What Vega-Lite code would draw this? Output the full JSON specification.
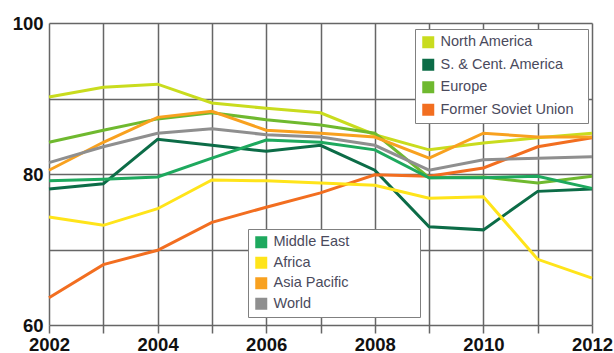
{
  "$schema": "https://vega.github.io/schema/vega-lite/v6.json",
  "width": 543,
  "height": 302,
  "autosize": {"type": "none"},
  "padding": {"left": 49, "top": 23, "right": 22, "bottom": 28},
  "background": "white",
  "data": {"values": [
    {"region": "North America", "year": 2002, "value": 90.2},
    {"region": "North America", "year": 2003, "value": 91.5},
    {"region": "North America", "year": 2004, "value": 91.9},
    {"region": "North America", "year": 2005, "value": 89.4},
    {"region": "North America", "year": 2006, "value": 88.7},
    {"region": "North America", "year": 2007, "value": 88.1},
    {"region": "North America", "year": 2008, "value": 85.2},
    {"region": "North America", "year": 2009, "value": 83.2},
    {"region": "North America", "year": 2010, "value": 84.1},
    {"region": "North America", "year": 2011, "value": 84.8},
    {"region": "North America", "year": 2012, "value": 85.4},
    {"region": "S. & Cent. America", "year": 2002, "value": 78.0},
    {"region": "S. & Cent. America", "year": 2003, "value": 78.7},
    {"region": "S. & Cent. America", "year": 2004, "value": 84.6},
    {"region": "S. & Cent. America", "year": 2005, "value": 83.8},
    {"region": "S. & Cent. America", "year": 2006, "value": 83.0},
    {"region": "S. & Cent. America", "year": 2007, "value": 83.8},
    {"region": "S. & Cent. America", "year": 2008, "value": 80.5},
    {"region": "S. & Cent. America", "year": 2009, "value": 73.0},
    {"region": "S. & Cent. America", "year": 2010, "value": 72.6},
    {"region": "S. & Cent. America", "year": 2011, "value": 77.7},
    {"region": "S. & Cent. America", "year": 2012, "value": 78.0},
    {"region": "Europe", "year": 2002, "value": 84.2},
    {"region": "Europe", "year": 2003, "value": 85.8},
    {"region": "Europe", "year": 2004, "value": 87.3},
    {"region": "Europe", "year": 2005, "value": 88.1},
    {"region": "Europe", "year": 2006, "value": 87.2},
    {"region": "Europe", "year": 2007, "value": 86.5},
    {"region": "Europe", "year": 2008, "value": 85.4},
    {"region": "Europe", "year": 2009, "value": 79.5},
    {"region": "Europe", "year": 2010, "value": 79.6},
    {"region": "Europe", "year": 2011, "value": 78.8},
    {"region": "Europe", "year": 2012, "value": 79.7},
    {"region": "Former Soviet Union", "year": 2002, "value": 63.6},
    {"region": "Former Soviet Union", "year": 2003, "value": 68.0},
    {"region": "Former Soviet Union", "year": 2004, "value": 69.9},
    {"region": "Former Soviet Union", "year": 2005, "value": 73.6},
    {"region": "Former Soviet Union", "year": 2006, "value": 75.6},
    {"region": "Former Soviet Union", "year": 2007, "value": 77.5},
    {"region": "Former Soviet Union", "year": 2008, "value": 79.9},
    {"region": "Former Soviet Union", "year": 2009, "value": 79.7},
    {"region": "Former Soviet Union", "year": 2010, "value": 80.8},
    {"region": "Former Soviet Union", "year": 2011, "value": 83.6},
    {"region": "Former Soviet Union", "year": 2012, "value": 84.8},
    {"region": "Middle East", "year": 2002, "value": 79.1},
    {"region": "Middle East", "year": 2003, "value": 79.3},
    {"region": "Middle East", "year": 2004, "value": 79.6},
    {"region": "Middle East", "year": 2005, "value": 82.1},
    {"region": "Middle East", "year": 2006, "value": 84.5},
    {"region": "Middle East", "year": 2007, "value": 84.2},
    {"region": "Middle East", "year": 2008, "value": 83.2},
    {"region": "Middle East", "year": 2009, "value": 79.5},
    {"region": "Middle East", "year": 2010, "value": 79.5},
    {"region": "Middle East", "year": 2011, "value": 79.7},
    {"region": "Middle East", "year": 2012, "value": 78.1},
    {"region": "Africa", "year": 2002, "value": 74.3},
    {"region": "Africa", "year": 2003, "value": 73.2},
    {"region": "Africa", "year": 2004, "value": 75.4},
    {"region": "Africa", "year": 2005, "value": 79.2},
    {"region": "Africa", "year": 2006, "value": 79.1},
    {"region": "Africa", "year": 2007, "value": 78.8},
    {"region": "Africa", "year": 2008, "value": 78.5},
    {"region": "Africa", "year": 2009, "value": 76.8},
    {"region": "Africa", "year": 2010, "value": 77.0},
    {"region": "Africa", "year": 2011, "value": 68.7},
    {"region": "Africa", "year": 2012, "value": 66.2},
    {"region": "Asia Pacific", "year": 2002, "value": 80.5},
    {"region": "Asia Pacific", "year": 2003, "value": 84.2},
    {"region": "Asia Pacific", "year": 2004, "value": 87.5},
    {"region": "Asia Pacific", "year": 2005, "value": 88.3},
    {"region": "Asia Pacific", "year": 2006, "value": 85.8},
    {"region": "Asia Pacific", "year": 2007, "value": 85.4},
    {"region": "Asia Pacific", "year": 2008, "value": 84.9},
    {"region": "Asia Pacific", "year": 2009, "value": 82.1},
    {"region": "Asia Pacific", "year": 2010, "value": 85.4},
    {"region": "Asia Pacific", "year": 2011, "value": 84.9},
    {"region": "Asia Pacific", "year": 2012, "value": 84.9},
    {"region": "World", "year": 2002, "value": 81.5},
    {"region": "World", "year": 2003, "value": 83.6},
    {"region": "World", "year": 2004, "value": 85.4},
    {"region": "World", "year": 2005, "value": 86.0},
    {"region": "World", "year": 2006, "value": 85.2},
    {"region": "World", "year": 2007, "value": 84.9},
    {"region": "World", "year": 2008, "value": 83.8},
    {"region": "World", "year": 2009, "value": 80.5},
    {"region": "World", "year": 2010, "value": 81.9},
    {"region": "World", "year": 2011, "value": 82.1},
    {"region": "World", "year": 2012, "value": 82.3}
  ]},
  "encoding": {
    "x": {
      "field": "year", "type": "quantitative",
      "scale": {"domain": [2002, 2012], "nice": false, "zero": false},
      "axis": {
        "values": [2002, 2003, 2004, 2005, 2006, 2007, 2008, 2009, 2010, 2011, 2012],
        "format": "d",
        "labelExpr": "datum.value % 2 == 0 ? datum.label : ''",
        "title": null, "grid": true, "gridColor": "#666666", "gridWidth": 1.5,
        "domain": false, "ticks": true, "tickColor": "#666666", "tickWidth": 1.5, "tickSize": 8,
        "labelFont": "Liberation Sans", "labelFontSize": 18.5, "labelFontWeight": "bold",
        "labelColor": "#111111", "labelPadding": 2, "labelFlush": false, "labelOverlap": false
      }
    },
    "y": {
      "field": "value", "type": "quantitative",
      "scale": {"domain": [60, 100], "nice": false, "zero": false},
      "axis": {
        "values": [60, 70, 80, 90, 100],
        "labelExpr": "datum.value % 20 == 0 ? datum.label : ''",
        "title": null, "grid": true, "gridColor": "#666666", "gridWidth": 1.5,
        "domain": false, "ticks": false, "tickSize": 0,
        "labelFont": "Liberation Sans", "labelFontSize": 18.5, "labelFontWeight": "bold",
        "labelColor": "#111111", "labelPadding": 6, "labelOverlap": false
      }
    }
  },
  "layer": [
    {
      "transform": [{"filter": {"field": "region", "oneOf": ["North America", "S. & Cent. America", "Europe", "Former Soviet Union"]}}],
      "mark": {"type": "line", "strokeWidth": 3},
      "encoding": {
        "color": {
          "field": "region", "type": "nominal",
          "scale": {"domain": ["North America", "S. & Cent. America", "Europe", "Former Soviet Union"], "range": ["#c9dc1e", "#0c6c47", "#6fb92f", "#f26e20"]},
          "legend": {
            "orient": "none", "legendX": 366, "legendY": 6, "title": null,
            "symbolType": "square", "symbolSize": 144, "padding": 6, "rowPadding": 7.5, "labelOffset": 5,
            "labelFont": "Liberation Sans", "labelFontSize": 14.5, "labelColor": "#4a4a5c",
            "strokeColor": "#808080", "fillColor": "white",
            "labelExpr": "datum.label + '\u00a0\u00a0\u200b'",
            "encode": {"symbols": {"update": {
              "fill": {"signal": "['#c9dc1e', '#0c6c47', '#6fb92f', '#f26e20'][indexof(['North America', 'S. & Cent. America', 'Europe', 'Former Soviet Union'], datum.value)]"},
              "stroke": {"value": "transparent"}, "strokeWidth": {"value": 0}, "opacity": {"value": 1}, "fillOpacity": {"value": 1}
            }}}
          }
        }
      }
    },
    {
      "transform": [{"filter": {"field": "region", "oneOf": ["Middle East", "Africa", "Asia Pacific", "World"]}}],
      "mark": {"type": "line", "strokeWidth": 3},
      "encoding": {
        "color": {
          "field": "region", "type": "nominal",
          "scale": {"domain": ["Middle East", "Africa", "Asia Pacific", "World"], "range": ["#1ea95e", "#ffe41a", "#f8a11f", "#8f8f8f"]},
          "legend": {
            "orient": "none", "legendX": 199, "legendY": 206, "title": null,
            "symbolType": "square", "symbolSize": 144, "padding": 6, "rowPadding": 5.5, "labelOffset": 5,
            "labelFont": "Liberation Sans", "labelFontSize": 14.5, "labelColor": "#4a4a5c",
            "strokeColor": "#808080", "fillColor": "white",
            "labelExpr": "datum.label + '\u00a0\u00a0\u00a0\u00a0\u00a0\u00a0\u00a0\u00a0\u00a0\u00a0\u00a0\u00a0\u00a0\u00a0\u00a0\u00a0\u200b'",
            "encode": {"symbols": {"update": {
              "fill": {"signal": "['#1ea95e', '#ffe41a', '#f8a11f', '#8f8f8f'][indexof(['Middle East', 'Africa', 'Asia Pacific', 'World'], datum.value)]"},
              "stroke": {"value": "transparent"}, "strokeWidth": {"value": 0}, "opacity": {"value": 1}, "fillOpacity": {"value": 1}
            }}}
          }
        }
      }
    }
  ],
  "resolve": {"scale": {"color": "independent"}, "legend": {"color": "independent"}},
  "config": {"view": {"stroke": null}}
}
